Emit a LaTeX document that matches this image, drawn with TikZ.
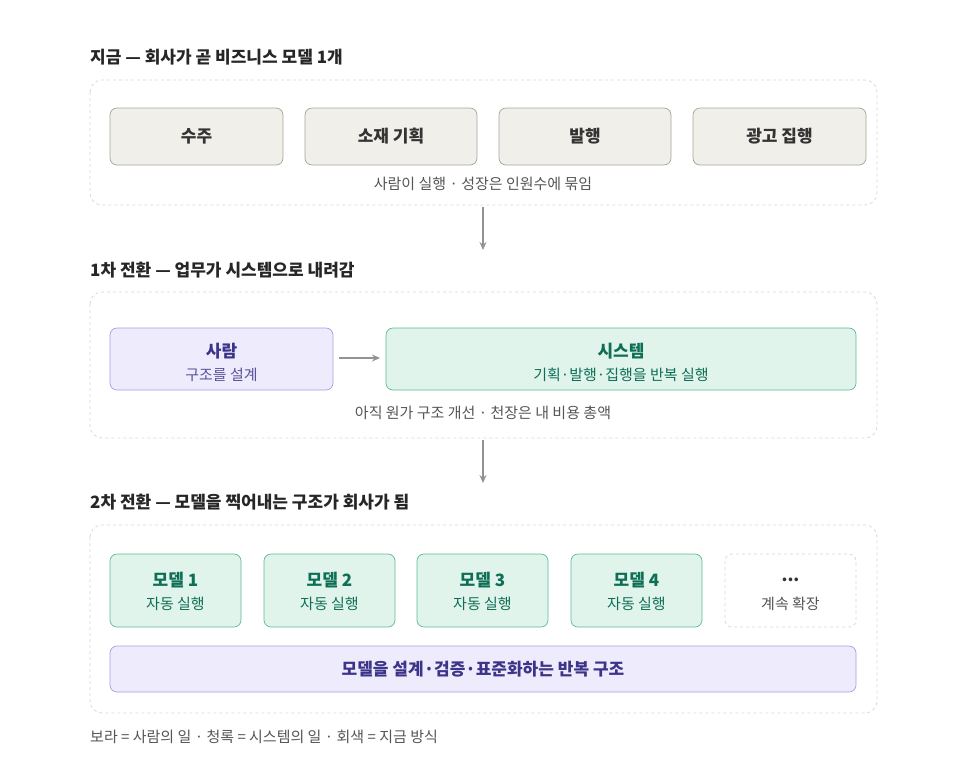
\documentclass[tikz,border=0pt]{standalone}
\usepackage{fontspec}
\usetikzlibrary{arrows.meta}
\setmainfont{Noto Sans CJK KR}
\definecolor{frame}{HTML}{D8D8D8}
\definecolor{grayfill}{HTML}{F1EFE9}
\definecolor{grayline}{HTML}{A6A39B}
\definecolor{purpfill}{HTML}{EEEBFC}
\definecolor{purpline}{HTML}{A89CE2}
\definecolor{purptext}{HTML}{3C3489}
\definecolor{greenfill}{HTML}{E1F4EC}
\definecolor{greenline}{HTML}{5DBA94}
\definecolor{greentext}{HTML}{0F6E56}
\definecolor{captext}{HTML}{555555}
\tikzset{
  container/.style={draw=frame,dashed,rounded corners=12pt,line width=0.8pt},
  graybox/.style={draw=grayline,fill=grayfill,rounded corners=7pt,line width=0.7pt,text=black!80,font=\fontsize{17}{20}\selectfont\bfseries},
  purpbox/.style={draw=purpline,fill=purpfill,rounded corners=7pt,line width=0.7pt},
  greenbox/.style={draw=greenline,fill=greenfill,rounded corners=7pt,line width=0.7pt},
  title/.style={anchor=west,inner sep=0pt,font=\fontsize{17}{20}\selectfont\bfseries,text=black!85},
  caption/.style={font=\fontsize{15}{18}\selectfont,text=captext},
  head/.style={font=\fontsize{17}{20}\selectfont\bfseries},
  sub/.style={font=\fontsize{15}{18}\selectfont},
  flow/.style={-{Stealth[length=8pt,width=7pt]},draw=gray!85,line width=1.4pt}
}
\begin{document}
\begin{tikzpicture}[x=1pt,y=-1pt]
\useasboundingbox (0,0) rectangle (966,764);
% stage 0
\node[title] (t0) at (90,57) {지금 — 회사가 곧 비즈니스 모델 1개};
\draw[container] (90,80) rectangle (877,205);
\foreach \x/\y/\n/\t in {110/283/a/수주,305/477/b/소재 기획,499/671/c/발행,693/866/d/광고 집행}{
  \draw[graybox] (\x,108) rectangle (\y,165);
  \node[graybox,draw=none,fill=none] (job\n) at ({(\x+\y)/2},136.5) {\t};
}
\node[caption] (cap0) at (483,184) {사람이 실행 · 성장은 인원수에 묶임};
\coordinate (s0) at (483,207);
\coordinate (e0) at (483,250);
\draw[flow] (s0) -- (e0);
% stage 1
\node[title] (t1) at (90,270) {1차 전환 — 업무가 시스템으로 내려감};
\draw[container] (90,292) rectangle (877,438);
\draw[purpbox] (110,328) rectangle (333,390);
\node[head,text=purptext] (person) at (221.5,351) {사람};
\node[sub,text=purptext!85] (persub) at (221.5,375) {구조를 설계};
\draw[greenbox] (386,328) rectangle (856,390);
\node[head,text=greentext] (system) at (621,351) {시스템};
\node[sub,text=greentext] (syssub) at (621,375) {기획·발행·집행을 반복 실행};
\coordinate (pa) at (339,358);
\coordinate (pb) at (380,358);
\draw[flow] (pa) -- (pb);
\node[caption] (cap1) at (483,413) {아직 원가 구조 개선 · 천장은 내 비용 총액};
\coordinate (s1) at (483,440);
\coordinate (e1) at (483,483);
\draw[flow] (s1) -- (e1);
% stage 2
\node[title] (t2) at (90,502) {2차 전환 — 모델을 찍어내는 구조가 회사가 됨};
\draw[container] (90,525) rectangle (877,713);
\foreach \x/\n in {110/1,264/2,417/3,571/4}{
  \draw[greenbox] (\x,554) rectangle (\x+131,627);
  \node[head,text=greentext] (model\n) at (\x+65.5,580) {모델 \n};
  \node[sub,text=greentext] (auto\n) at (\x+65.5,604) {자동 실행};
}
\draw[container,rounded corners=7pt] (725,554) rectangle (856,627);
\node[head,text=black!80] (more) at (790.5,580) {...};
\node[caption] (moresub) at (790.5,604) {계속 확장};
\draw[purpbox] (110,646) rectangle (856,692);
\node[head,text=purptext] (loop) at (483,669) {모델을 설계·검증·표준화하는 반복 구조};
% legend
\node[caption,anchor=west,inner sep=0pt] (legend) at (90,737) {보라 = 사람의 일 · 청록 = 시스템의 일 · 회색 = 지금 방식};
\end{tikzpicture}
\end{document}
